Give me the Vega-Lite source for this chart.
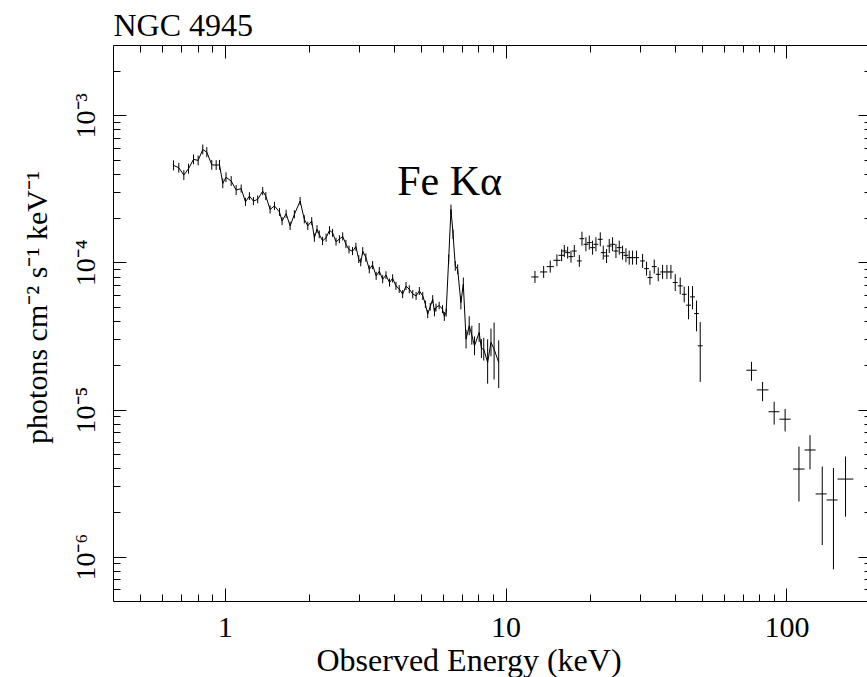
{
  "$schema": "https://vega.github.io/schema/vega-lite/v6.json",
  "width": 758,
  "height": 556,
  "autosize": "none",
  "padding": {"left": 113, "top": 45, "right": 0, "bottom": 76},
  "background": "white",
  "config": {"view": {"stroke": "black", "strokeWidth": 1}},
  "datasets": {
    "soft": [
      {"E": 0.657, "F": 4.56e-4, "lo": 4.22e-4, "hi": 4.93e-4},
      {"E": 0.686, "F": 4.40e-4, "lo": 4.07e-4, "hi": 4.75e-4},
      {"E": 0.715, "F": 3.92e-4, "lo": 3.63e-4, "hi": 4.23e-4},
      {"E": 0.743, "F": 4.33e-4, "lo": 4.01e-4, "hi": 4.68e-4},
      {"E": 0.774, "F": 5.01e-4, "lo": 4.64e-4, "hi": 5.41e-4},
      {"E": 0.804, "F": 4.93e-4, "lo": 4.56e-4, "hi": 5.32e-4},
      {"E": 0.835, "F": 5.85e-4, "lo": 5.42e-4, "hi": 6.32e-4},
      {"E": 0.863, "F": 5.61e-4, "lo": 5.19e-4, "hi": 6.06e-4},
      {"E": 0.899, "F": 4.60e-4, "lo": 4.26e-4, "hi": 4.97e-4},
      {"E": 0.932, "F": 4.58e-4, "lo": 4.24e-4, "hi": 4.95e-4},
      {"E": 0.958, "F": 4.60e-4, "lo": 4.26e-4, "hi": 4.97e-4},
      {"E": 0.984, "F": 3.44e-4, "lo": 3.19e-4, "hi": 3.72e-4},
      {"E": 1.01, "F": 3.79e-4, "lo": 3.51e-4, "hi": 4.09e-4},
      {"E": 1.054, "F": 3.57e-4, "lo": 3.31e-4, "hi": 3.86e-4},
      {"E": 1.098, "F": 3.10e-4, "lo": 2.87e-4, "hi": 3.35e-4},
      {"E": 1.144, "F": 3.17e-4, "lo": 2.98e-4, "hi": 3.38e-4},
      {"E": 1.185, "F": 2.58e-4, "lo": 2.42e-4, "hi": 2.75e-4},
      {"E": 1.224, "F": 2.82e-4, "lo": 2.65e-4, "hi": 3.00e-4},
      {"E": 1.265, "F": 2.61e-4, "lo": 2.45e-4, "hi": 2.78e-4},
      {"E": 1.31, "F": 2.68e-4, "lo": 2.52e-4, "hi": 2.85e-4},
      {"E": 1.365, "F": 3.05e-4, "lo": 2.86e-4, "hi": 3.25e-4},
      {"E": 1.40, "F": 2.82e-4, "lo": 2.65e-4, "hi": 3.00e-4},
      {"E": 1.45, "F": 2.29e-4, "lo": 2.15e-4, "hi": 2.44e-4},
      {"E": 1.503, "F": 2.42e-4, "lo": 2.27e-4, "hi": 2.58e-4},
      {"E": 1.566, "F": 2.20e-4, "lo": 2.07e-4, "hi": 2.34e-4},
      {"E": 1.60, "F": 1.91e-4, "lo": 1.79e-4, "hi": 2.03e-4},
      {"E": 1.654, "F": 2.14e-4, "lo": 2.01e-4, "hi": 2.28e-4},
      {"E": 1.709, "F": 1.77e-4, "lo": 1.66e-4, "hi": 1.89e-4},
      {"E": 1.77, "F": 2.12e-4, "lo": 1.99e-4, "hi": 2.26e-4},
      {"E": 1.855, "F": 2.61e-4, "lo": 2.45e-4, "hi": 2.78e-4},
      {"E": 1.92, "F": 1.96e-4, "lo": 1.84e-4, "hi": 2.09e-4},
      {"E": 1.975, "F": 1.77e-4, "lo": 1.66e-4, "hi": 1.89e-4},
      {"E": 2.04, "F": 1.91e-4, "lo": 1.79e-4, "hi": 2.03e-4},
      {"E": 2.085, "F": 1.47e-4, "lo": 1.38e-4, "hi": 1.57e-4},
      {"E": 2.13, "F": 1.68e-4, "lo": 1.58e-4, "hi": 1.79e-4},
      {"E": 2.17, "F": 1.55e-4, "lo": 1.46e-4, "hi": 1.65e-4},
      {"E": 2.23, "F": 1.40e-4, "lo": 1.31e-4, "hi": 1.49e-4},
      {"E": 2.295, "F": 1.47e-4, "lo": 1.38e-4, "hi": 1.57e-4},
      {"E": 2.36, "F": 1.65e-4, "lo": 1.55e-4, "hi": 1.76e-4},
      {"E": 2.42, "F": 1.59e-4, "lo": 1.49e-4, "hi": 1.69e-4},
      {"E": 2.49, "F": 1.38e-4, "lo": 1.30e-4, "hi": 1.47e-4},
      {"E": 2.56, "F": 1.44e-4, "lo": 1.35e-4, "hi": 1.53e-4},
      {"E": 2.63, "F": 1.50e-4, "lo": 1.41e-4, "hi": 1.60e-4},
      {"E": 2.70, "F": 1.33e-4, "lo": 1.25e-4, "hi": 1.42e-4},
      {"E": 2.77, "F": 1.22e-4, "lo": 1.15e-4, "hi": 1.30e-4},
      {"E": 2.85, "F": 1.19e-4, "lo": 1.12e-4, "hi": 1.27e-4},
      {"E": 2.93, "F": 1.28e-4, "lo": 1.20e-4, "hi": 1.36e-4},
      {"E": 3.0, "F": 1.05e-4, "lo": 0.99e-4, "hi": 1.12e-4},
      {"E": 3.05, "F": 1.00e-4, "lo": 0.94e-4, "hi": 1.065e-4},
      {"E": 3.10, "F": 1.19e-4, "lo": 1.12e-4, "hi": 1.27e-4},
      {"E": 3.18, "F": 1.08e-4, "lo": 1.01e-4, "hi": 1.15e-4},
      {"E": 3.27, "F": 8.97e-5, "lo": 8.42e-5, "hi": 9.55e-5},
      {"E": 3.36, "F": 9.6e-5, "lo": 9.0e-5, "hi": 1.02e-4},
      {"E": 3.46, "F": 8.09e-5, "lo": 7.60e-5, "hi": 8.62e-5},
      {"E": 3.55, "F": 8.7e-5, "lo": 8.2e-5, "hi": 9.3e-5},
      {"E": 3.65, "F": 7.68e-5, "lo": 7.21e-5, "hi": 8.18e-5},
      {"E": 3.75, "F": 8.2e-5, "lo": 7.7e-5, "hi": 8.7e-5},
      {"E": 3.86, "F": 7.29e-5, "lo": 6.85e-5, "hi": 7.76e-5},
      {"E": 3.96, "F": 7.8e-5, "lo": 7.3e-5, "hi": 8.3e-5},
      {"E": 4.07, "F": 6.92e-5, "lo": 6.50e-5, "hi": 7.37e-5},
      {"E": 4.18, "F": 6.6e-5, "lo": 6.2e-5, "hi": 7.0e-5},
      {"E": 4.30, "F": 6.08e-5, "lo": 5.71e-5, "hi": 6.48e-5},
      {"E": 4.42, "F": 6.9e-5, "lo": 6.5e-5, "hi": 7.35e-5},
      {"E": 4.54, "F": 6.56e-5, "lo": 6.16e-5, "hi": 6.99e-5},
      {"E": 4.67, "F": 6.1e-5, "lo": 5.7e-5, "hi": 6.5e-5},
      {"E": 4.80, "F": 5.92e-5, "lo": 5.56e-5, "hi": 6.30e-5},
      {"E": 4.93, "F": 6.4e-5, "lo": 6.0e-5, "hi": 6.8e-5},
      {"E": 5.07, "F": 5.92e-5, "lo": 5.56e-5, "hi": 6.30e-5},
      {"E": 5.18, "F": 5.2e-5, "lo": 4.9e-5, "hi": 5.5e-5},
      {"E": 5.28, "F": 4.45e-5, "lo": 4.18e-5, "hi": 4.74e-5},
      {"E": 5.39, "F": 5.0e-5, "lo": 4.7e-5, "hi": 5.3e-5},
      {"E": 5.50, "F": 5.62e-5, "lo": 5.28e-5, "hi": 5.99e-5},
      {"E": 5.58, "F": 4.6e-5, "lo": 4.3e-5, "hi": 4.9e-5},
      {"E": 5.65, "F": 4.93e-5, "lo": 4.63e-5, "hi": 5.25e-5},
      {"E": 5.80, "F": 5.1e-5, "lo": 4.8e-5, "hi": 5.4e-5},
      {"E": 5.96, "F": 4.81e-5, "lo": 4.52e-5, "hi": 5.12e-5},
      {"E": 6.05, "F": 4.3e-5, "lo": 4.0e-5, "hi": 4.6e-5},
      {"E": 6.14, "F": 4.56e-5, "lo": 4.28e-5, "hi": 4.86e-5},
      {"E": 6.27, "F": 1.05e-4, "lo": 0.97e-4, "hi": 1.13e-4},
      {"E": 6.39, "F": 2.29e-4, "lo": 2.12e-4, "hi": 2.47e-4},
      {"E": 6.50, "F": 1.55e-4, "lo": 1.44e-4, "hi": 1.67e-4},
      {"E": 6.62, "F": 9.46e-5, "lo": 8.76e-5, "hi": 1.02e-4},
      {"E": 6.75, "F": 8.97e-5, "lo": 8.31e-5, "hi": 9.69e-5},
      {"E": 6.93, "F": 5.33e-5, "lo": 4.80e-5, "hi": 5.92e-5},
      {"E": 7.07, "F": 7.10e-5, "lo": 6.40e-5, "hi": 7.88e-5},
      {"E": 7.23, "F": 3.01e-5, "lo": 2.60e-5, "hi": 3.48e-5},
      {"E": 7.42, "F": 3.71e-5, "lo": 3.20e-5, "hi": 4.30e-5},
      {"E": 7.58, "F": 3.20e-5, "lo": 2.76e-5, "hi": 3.71e-5},
      {"E": 7.75, "F": 2.71e-5, "lo": 2.34e-5, "hi": 3.14e-5},
      {"E": 8.05, "F": 3.34e-5, "lo": 2.88e-5, "hi": 3.87e-5},
      {"E": 8.20, "F": 2.60e-5, "lo": 2.24e-5, "hi": 3.01e-5},
      {"E": 8.36, "F": 2.57e-5, "lo": 2.15e-5, "hi": 3.07e-5},
      {"E": 8.63, "F": 2.09e-5, "lo": 1.50e-5, "hi": 3.00e-5},
      {"E": 8.87, "F": 2.86e-5, "lo": 2.30e-5, "hi": 3.55e-5},
      {"E": 9.10, "F": 2.57e-5, "lo": 1.60e-5, "hi": 3.90e-5},
      {"E": 9.45, "F": 2.09e-5, "lo": 1.40e-5, "hi": 2.95e-5}
    ],
    "hard": [
      {"E": 12.72, "Elo": 12.35, "Ehi": 13.10, "F": 7.96e-5, "Flo": 7.25e-5, "Fhi": 8.74e-5},
      {"E": 13.66, "Elo": 13.26, "Ehi": 14.07, "F": 8.61e-5, "Flo": 7.84e-5, "Fhi": 9.45e-5},
      {"E": 14.42, "Elo": 14.00, "Ehi": 14.85, "F": 9.36e-5, "Flo": 8.52e-5, "Fhi": 1.028e-4},
      {"E": 15.23, "Elo": 14.79, "Ehi": 15.69, "F": 1.033e-4, "Flo": 9.41e-5, "Fhi": 1.134e-4},
      {"E": 15.83, "Elo": 15.44, "Ehi": 16.23, "F": 1.117e-4, "Flo": 1.017e-4, "Fhi": 1.226e-4},
      {"E": 16.18, "Elo": 15.86, "Ehi": 16.50, "F": 1.195e-4, "Flo": 1.088e-4, "Fhi": 1.312e-4},
      {"E": 16.63, "Elo": 16.30, "Ehi": 16.96, "F": 1.165e-4, "Flo": 1.061e-4, "Fhi": 1.279e-4},
      {"E": 17.09, "Elo": 16.75, "Ehi": 17.43, "F": 1.094e-4, "Flo": 9.96e-5, "Fhi": 1.201e-4},
      {"E": 17.56, "Elo": 17.22, "Ehi": 17.91, "F": 1.195e-4, "Flo": 1.088e-4, "Fhi": 1.312e-4},
      {"E": 18.30, "Elo": 17.94, "Ehi": 18.67, "F": 1.023e-4, "Flo": 9.32e-5, "Fhi": 1.123e-4},
      {"E": 18.70, "Elo": 18.33, "Ehi": 19.07, "F": 1.449e-4, "Flo": 1.298e-4, "Fhi": 1.617e-4},
      {"E": 19.32, "Elo": 18.94, "Ehi": 19.71, "F": 1.327e-4, "Flo": 1.189e-4, "Fhi": 1.481e-4},
      {"E": 19.86, "Elo": 19.47, "Ehi": 20.26, "F": 1.362e-4, "Flo": 1.220e-4, "Fhi": 1.520e-4},
      {"E": 20.40, "Elo": 20.00, "Ehi": 20.81, "F": 1.259e-4, "Flo": 1.128e-4, "Fhi": 1.405e-4},
      {"E": 20.97, "Elo": 20.56, "Ehi": 21.39, "F": 1.327e-4, "Flo": 1.189e-4, "Fhi": 1.481e-4},
      {"E": 21.73, "Elo": 21.30, "Ehi": 22.16, "F": 1.434e-4, "Flo": 1.285e-4, "Fhi": 1.600e-4},
      {"E": 22.27, "Elo": 21.83, "Ehi": 22.72, "F": 1.165e-4, "Flo": 1.044e-4, "Fhi": 1.300e-4},
      {"E": 22.88, "Elo": 22.43, "Ehi": 23.34, "F": 1.105e-4, "Flo": 9.90e-5, "Fhi": 1.233e-4},
      {"E": 23.39, "Elo": 22.93, "Ehi": 23.86, "F": 1.292e-4, "Flo": 1.158e-4, "Fhi": 1.442e-4},
      {"E": 24.04, "Elo": 23.57, "Ehi": 24.52, "F": 1.327e-4, "Flo": 1.189e-4, "Fhi": 1.481e-4},
      {"E": 24.71, "Elo": 24.23, "Ehi": 25.20, "F": 1.195e-4, "Flo": 1.071e-4, "Fhi": 1.334e-4},
      {"E": 25.39, "Elo": 24.89, "Ehi": 25.90, "F": 1.259e-4, "Flo": 1.128e-4, "Fhi": 1.405e-4},
      {"E": 26.09, "Elo": 25.58, "Ehi": 26.61, "F": 1.165e-4, "Flo": 1.044e-4, "Fhi": 1.300e-4},
      {"E": 26.82, "Elo": 26.29, "Ehi": 27.36, "F": 1.117e-4, "Flo": 1.001e-4, "Fhi": 1.247e-4},
      {"E": 27.55, "Elo": 27.01, "Ehi": 28.10, "F": 1.077e-4, "Flo": 9.65e-5, "Fhi": 1.202e-4},
      {"E": 28.32, "Elo": 27.76, "Ehi": 28.89, "F": 1.077e-4, "Flo": 9.65e-5, "Fhi": 1.202e-4},
      {"E": 29.26, "Elo": 28.69, "Ehi": 29.85, "F": 1.077e-4, "Flo": 9.65e-5, "Fhi": 1.202e-4},
      {"E": 30.74, "Elo": 30.14, "Ehi": 31.35, "F": 1.023e-4, "Flo": 9.17e-5, "Fhi": 1.142e-4},
      {"E": 31.76, "Elo": 31.14, "Ehi": 32.40, "F": 9.07e-5, "Flo": 8.13e-5, "Fhi": 1.012e-4},
      {"E": 32.65, "Elo": 32.01, "Ehi": 33.30, "F": 7.88e-5, "Flo": 7.06e-5, "Fhi": 8.79e-5},
      {"E": 33.83, "Elo": 33.17, "Ehi": 34.51, "F": 9.36e-5, "Flo": 8.39e-5, "Fhi": 1.045e-4},
      {"E": 34.95, "Elo": 34.26, "Ehi": 35.65, "F": 8.30e-5, "Flo": 7.44e-5, "Fhi": 9.26e-5},
      {"E": 36.22, "Elo": 35.51, "Ehi": 36.94, "F": 8.61e-5, "Flo": 7.72e-5, "Fhi": 9.61e-5},
      {"E": 37.53, "Elo": 36.79, "Ehi": 38.28, "F": 8.61e-5, "Flo": 7.72e-5, "Fhi": 9.61e-5},
      {"E": 38.78, "Elo": 38.02, "Ehi": 39.56, "F": 8.61e-5, "Flo": 7.72e-5, "Fhi": 9.61e-5},
      {"E": 40.18, "Elo": 39.39, "Ehi": 40.98, "F": 7.29e-5, "Flo": 6.39e-5, "Fhi": 8.32e-5},
      {"E": 41.85, "Elo": 41.03, "Ehi": 42.69, "F": 6.92e-5, "Flo": 6.07e-5, "Fhi": 7.89e-5},
      {"E": 43.24, "Elo": 42.39, "Ehi": 44.10, "F": 6.07e-5, "Flo": 5.35e-5, "Fhi": 6.85e-5},
      {"E": 44.81, "Elo": 43.93, "Ehi": 45.71, "F": 5.12e-5, "Flo": 4.10e-5, "Fhi": 6.90e-5},
      {"E": 46.30, "Elo": 45.39, "Ehi": 47.23, "F": 5.83e-5, "Flo": 4.80e-5, "Fhi": 6.90e-5},
      {"E": 47.84, "Elo": 46.90, "Ehi": 48.80, "F": 4.49e-5, "Flo": 3.40e-5, "Fhi": 5.50e-5},
      {"E": 49.31, "Elo": 48.34, "Ehi": 50.30, "F": 2.71e-5, "Flo": 1.54e-5, "Fhi": 3.93e-5}
    ],
    "veryhard": [
      {"E": 75.1, "Elo": 72.0, "Ehi": 78.4, "F": 1.85e-5, "Flo": 1.57e-5, "Fhi": 2.11e-5},
      {"E": 82.2, "Elo": 78.4, "Ehi": 86.3, "F": 1.36e-5, "Flo": 1.14e-5, "Fhi": 1.54e-5},
      {"E": 90.4, "Elo": 86.3, "Ehi": 94.4, "F": 9.66e-6, "Flo": 7.9e-6, "Fhi": 1.13e-5},
      {"E": 98.9, "Elo": 94.4, "Ehi": 103.5, "F": 8.6e-6, "Flo": 7.1e-6, "Fhi": 1.01e-5},
      {"E": 110.8, "Elo": 105.6, "Ehi": 116.0, "F": 3.94e-6, "Flo": 2.37e-6, "Fhi": 5.6e-6},
      {"E": 121.3, "Elo": 116.0, "Ehi": 127.0, "F": 5.31e-6, "Flo": 3.92e-6, "Fhi": 6.7e-6},
      {"E": 134.1, "Elo": 127.0, "Ehi": 139.0, "F": 2.67e-6, "Flo": 1.2e-6, "Fhi": 4.1e-6},
      {"E": 147.0, "Elo": 139.0, "Ehi": 152.0, "F": 2.43e-6, "Flo": 8.2e-7, "Fhi": 4.0e-6},
      {"E": 162.3, "Elo": 152.0, "Ehi": 173.0, "F": 3.37e-6, "Flo": 1.87e-6, "Fhi": 4.8e-6}
    ],
    "notes": [
      {"E": 4.11, "F": 2.87e-4, "label": "Fe Kα"}
    ]
  },
  "layer": [
    {
      "data": {"name": "soft"},
      "mark": {"type": "line", "color": "black", "strokeWidth": 1},
      "encoding": {
        "x": {"field": "E", "type": "quantitative", "scale": {"type": "log", "domain": [0.4, 200], "nice": false},
          "axis": {"orient": "bottom", "values": [1, 10, 100], "format": "d", "tickSize": -13, "tickColor": "black", "domain": false, "grid": false,
            "labelPadding": 24, "labelFont": "Liberation Serif", "labelFontSize": 30, "labelColor": "black", "labelFlush": false, "labelOverlap": false,
            "title": "Observed Energy (keV)", "titleFont": "Liberation Serif", "titleFontSize": 32, "titleFontWeight": "normal", "titleColor": "black",
            "titleX": 355.5, "titleY": 69, "titleAlign": "center", "titleBaseline": "alphabetic"}},
        "y": {"field": "F", "type": "quantitative", "scale": {"type": "log", "domain": [5e-7, 3e-3], "nice": false},
          "axis": {"orient": "left", "values": [1e-6, 1e-5, 1e-4, 1e-3], "tickSize": -13, "tickColor": "black", "domain": false, "grid": false,
            "labelExpr": "datum.value < 3e-6 ? '10⁻⁶' : datum.value < 3e-5 ? '10⁻⁵' : datum.value < 3e-4 ? '10⁻⁴' : '10⁻³'",
            "labelAngle": -90, "labelAlign": "center", "labelBaseline": "alphabetic", "labelPadding": 32, "labelFont": "Liberation Serif", "labelFontSize": 28, "labelColor": "black", "labelFlush": false, "labelOverlap": false,
            "title": "photons cm⁻² s⁻¹ keV⁻¹", "titleFont": "Liberation Serif", "titleFontSize": 30, "titleFontWeight": "normal", "titleColor": "black",
            "titleAngle": -90, "titleX": -67, "titleY": 262, "titleAlign": "center", "titleBaseline": "alphabetic"}}
      }
    },
    {
      "data": {"name": "soft"},
      "mark": {"type": "rule", "color": "black", "strokeWidth": 1},
      "encoding": {
        "x": {"field": "E", "type": "quantitative", "scale": {"type": "log", "domain": [0.4, 200], "nice": false},
          "axis": {"orient": "bottom", "values": [0.5, 0.6, 0.7, 0.8, 0.9, 2, 3, 4, 5, 6, 7, 8, 9, 20, 30, 40, 50, 60, 70, 80, 90], "tickSize": -7, "tickColor": "black", "domain": false, "grid": false, "labels": false, "title": null}},
        "y": {"field": "lo", "type": "quantitative", "scale": {"type": "log", "domain": [5e-7, 3e-3], "nice": false},
          "axis": {"orient": "left", "values": [6e-7, 7e-7, 8e-7, 9e-7, 2e-6, 3e-6, 4e-6, 5e-6, 6e-6, 7e-6, 8e-6, 9e-6, 2e-5, 3e-5, 4e-5, 5e-5, 6e-5, 7e-5, 8e-5, 9e-5, 2e-4, 3e-4, 4e-4, 5e-4, 6e-4, 7e-4, 8e-4, 9e-4, 2e-3], "tickSize": -7, "tickColor": "black", "domain": false, "grid": false, "labels": false, "title": null}},
        "y2": {"field": "hi"}
      }
    },
    {
      "data": {"name": "hard"},
      "mark": {"type": "rule", "color": "black", "strokeWidth": 1},
      "encoding": {
        "x": {"field": "Elo", "type": "quantitative", "scale": {"type": "log", "domain": [0.4, 200], "nice": false},
          "axis": {"orient": "top", "values": [1, 10, 100], "tickSize": -13, "tickColor": "black", "domain": false, "grid": false, "labels": false,
            "title": "NGC 4945", "titleFont": "Liberation Serif", "titleFontSize": 32, "titleFontWeight": "normal", "titleColor": "black",
            "titleX": 0, "titleY": -9.5, "titleAlign": "left", "titleBaseline": "alphabetic", "titleAngle": 0}},
        "x2": {"field": "Ehi"},
        "y": {"field": "F", "type": "quantitative", "scale": {"type": "log", "domain": [5e-7, 3e-3], "nice": false},
          "axis": {"orient": "right", "values": [1e-6, 1e-5, 1e-4, 1e-3], "tickSize": -13, "tickColor": "black", "domain": false, "grid": false, "labels": false, "title": null}}
      }
    },
    {
      "data": {"name": "hard"},
      "mark": {"type": "rule", "color": "black", "strokeWidth": 1},
      "encoding": {
        "x": {"field": "E", "type": "quantitative", "scale": {"type": "log", "domain": [0.4, 200], "nice": false},
          "axis": {"orient": "top", "values": [0.5, 0.6, 0.7, 0.8, 0.9, 2, 3, 4, 5, 6, 7, 8, 9, 20, 30, 40, 50, 60, 70, 80, 90], "tickSize": -7, "tickColor": "black", "domain": false, "grid": false, "labels": false, "title": null}},
        "y": {"field": "Flo", "type": "quantitative", "scale": {"type": "log", "domain": [5e-7, 3e-3], "nice": false},
          "axis": {"orient": "right", "values": [6e-7, 7e-7, 8e-7, 9e-7, 2e-6, 3e-6, 4e-6, 5e-6, 6e-6, 7e-6, 8e-6, 9e-6, 2e-5, 3e-5, 4e-5, 5e-5, 6e-5, 7e-5, 8e-5, 9e-5, 2e-4, 3e-4, 4e-4, 5e-4, 6e-4, 7e-4, 8e-4, 9e-4, 2e-3], "tickSize": -7, "tickColor": "black", "domain": false, "grid": false, "labels": false, "title": null}},
        "y2": {"field": "Fhi"}
      }
    },
    {
      "data": {"name": "veryhard"},
      "mark": {"type": "rule", "color": "black", "strokeWidth": 1},
      "encoding": {
        "x": {"field": "Elo", "type": "quantitative", "scale": {"type": "log", "domain": [0.4, 200], "nice": false}, "axis": null},
        "x2": {"field": "Ehi"},
        "y": {"field": "F", "type": "quantitative", "scale": {"type": "log", "domain": [5e-7, 3e-3], "nice": false}, "axis": null}
      }
    },
    {
      "data": {"name": "veryhard"},
      "mark": {"type": "rule", "color": "black", "strokeWidth": 1},
      "encoding": {
        "x": {"field": "E", "type": "quantitative", "scale": {"type": "log", "domain": [0.4, 200], "nice": false}, "axis": null},
        "y": {"field": "Flo", "type": "quantitative", "scale": {"type": "log", "domain": [5e-7, 3e-3], "nice": false}, "axis": null},
        "y2": {"field": "Fhi"}
      }
    },
    {
      "data": {"name": "notes"},
      "mark": {"type": "text", "font": "Liberation Serif", "fontSize": 42, "align": "left", "baseline": "alphabetic", "color": "black"},
      "encoding": {
        "x": {"field": "E", "type": "quantitative", "scale": {"type": "log", "domain": [0.4, 200], "nice": false}, "axis": null},
        "y": {"field": "F", "type": "quantitative", "scale": {"type": "log", "domain": [5e-7, 3e-3], "nice": false}, "axis": null},
        "text": {"field": "label"}
      }
    }
  ],
  "resolve": {"axis": {"x": "independent", "y": "independent"}}
}
